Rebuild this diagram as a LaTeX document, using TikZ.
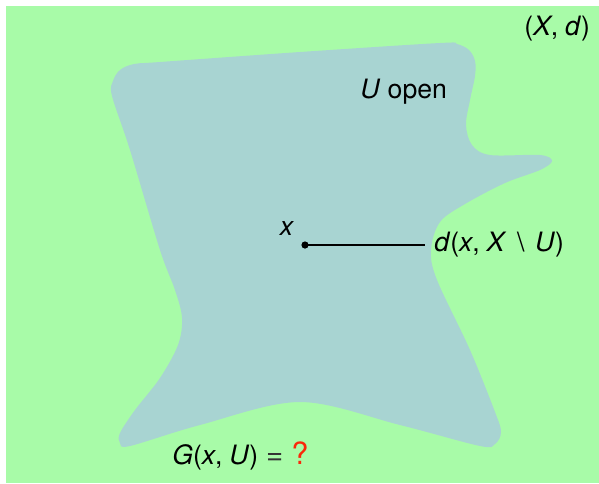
\documentclass[tikz,border=0pt]{standalone}
\usepackage{fontspec}
\setmainfont{TeX Gyre Heros}
\definecolor{bggreen}{RGB}{168,251,168}
\definecolor{blobcol}{RGB}{168,212,210}
\definecolor{qred}{RGB}{250,40,10}
\begin{document}
\begin{tikzpicture}[x=0.75pt,y=-0.75pt,
  lbl/.style={inner sep=0pt,font=\fontsize{20}{24}\selectfont}]
\useasboundingbox (0,0) rectangle (599,483);
\fill[white] (0,0) rectangle (599,483);
\fill[bggreen] (6,6) rectangle (599,483);
\fill[blobcol] plot[smooth cycle,tension=0.55] coordinates {
 (160,62) (300,52) (440,43) (457,44) (469,50) (475,61) (475,76) (470,100)
 (466,125) (472,145) (490,155) (540,155) (552,161) (540,170) (505,183)
 (465,204) (440,222) (431,250) (437,280) (470,350) (495,412) (501,432)
 (495,444) (480,446) (400,425) (300,402) (200,425) (130,446) (120,443)
 (120,433) (135,410) (160,378) (178,345) (182,318) (175,290) (160,250)
 (130,150) (112,96) (113,81) (120,70) (134,64)};
\node[lbl,anchor=west] (Xd) at (524,29) {(\textit{X},\hspace{0.25em}\textit{d})};
\node[lbl,anchor=west] (Uo) at (360,92) {\textit{U} open};
\node[lbl] (xl) at (287,229) {\textit{x}};
\coordinate (p) at (305,245);
\coordinate (q) at (425,245);
\node[lbl,anchor=west] (dist) at (434,245) {\textit{d}(\textit{x},\hspace{0.25em}\textit{X}\hspace{0.4em}\textbackslash\hspace{0.4em}\textit{U})};
\fill (p) circle[radius=3.6];
\draw[line width=0.8pt] (p) -- (q);
\node[lbl,anchor=west] (G) at (172,456) {\textit{G}(\textit{x},\hspace{0.25em}\textit{U})\hspace{0.3em}{\color{black!80}\fontsize{22}{24}\selectfont=}\hspace{0.3em}{\color{qred}\fontsize{23}{24}\selectfont?}};
\end{tikzpicture}
\end{document}
